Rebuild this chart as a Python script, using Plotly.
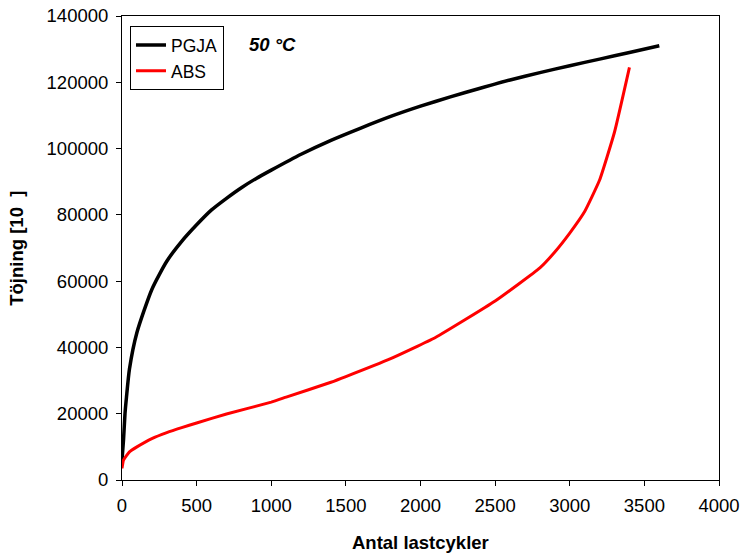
import plotly.graph_objects as go

pgja_x = [0, 10, 20, 30, 50, 100, 200, 300, 400, 500, 600, 700, 800, 900, 1000,
          1200, 1400, 1600, 1800, 2000, 2200, 2400, 2600, 2800, 3000, 3200, 3400, 3600]
pgja_y = [6000, 12000, 20000, 25000, 33500, 44500, 57500, 66000, 72000, 77000, 81500,
          85000, 88200, 91000, 93500, 98300, 102500, 106200, 109700, 112800, 115600,
          118200, 120700, 122900, 125000, 127000, 129000, 131000]

abs_x = [0, 10, 50, 100, 200, 300, 400, 500, 700, 1000, 1100, 1400, 1500, 1800, 2100,
         2500, 2800, 2900, 3000, 3100, 3200, 3300, 3400]
abs_y = [3500, 6000, 8500, 10000, 12500, 14300, 15800, 17200, 19900, 23500, 25000,
         29500, 31200, 36600, 43000, 54000, 64000, 68800, 74500, 81000, 90500, 105000, 124500]

x_ticks = [0, 500, 1000, 1500, 2000, 2500, 3000, 3500, 4000]
y_ticks = [0, 20000, 40000, 60000, 80000, 100000, 120000, 140000]

font = "Liberation Sans, Arial, sans-serif"

fig = go.Figure()
fig.add_trace(go.Scatter(x=pgja_x, y=pgja_y, mode="lines", name="PGJA",
                         line=dict(color="black", width=3.5, shape="spline", smoothing=0.6)))
fig.add_trace(go.Scatter(x=abs_x, y=abs_y, mode="lines", name="ABS",
                         line=dict(color="#ff0000", width=3, shape="spline", smoothing=0.4)))

axis_common = dict(showgrid=False, zeroline=False, showline=True, linecolor="black",
                   linewidth=1, mirror=True, ticks="outside", ticklen=5, tickcolor="black",
                   automargin=False,
                   tickfont=dict(family=font, size=18.5, color="black"))

fig.update_xaxes(range=[0, 4000], tickvals=x_ticks, ticktext=[str(v) for v in x_ticks],
                 ticklabelstandoff=4, **axis_common)
fig.update_yaxes(range=[0, 140000], tickvals=y_ticks, ticktext=[str(v) for v in y_ticks],
                 ticklabelstandoff=4, **axis_common)

fig.update_layout(
    width=743, height=554,
    margin=dict(l=122, r=24, t=16, b=74),
    plot_bgcolor="white", paper_bgcolor="white",
    font=dict(family=font, color="black"),
    showlegend=True,
    legend=dict(x=0.0134, y=0.978, xanchor="left", yanchor="top",
                bordercolor="black", borderwidth=1, bgcolor="white",
                font=dict(family=font, size=17.5, color="black"),
                tracegroupgap=0, itemwidth=30),
    annotations=[
        dict(text="<b><i>50 °C</i></b>", x=0.21, y=0.938, xref="paper", yref="paper",
             xanchor="left", yanchor="middle", showarrow=False,
             font=dict(family=font, size=18.5, color="black")),
        dict(text="<b>Antal lastcykler</b>", x=0.5, y=-0.135, xref="paper", yref="paper",
             xanchor="center", yanchor="middle", showarrow=False,
             font=dict(family=font, size=18.5, color="black")),
        dict(text="<b>Töjning [10  ]</b>", x=-0.178, y=0.5, xref="paper", yref="paper",
             xanchor="center", yanchor="middle", showarrow=False, textangle=-90,
             font=dict(family=font, size=18.5, color="black")),
    ],
)

fig.write_html("out.html", config={"displayModeBar": False},
               post_script="document.body.style.margin='0px';")
